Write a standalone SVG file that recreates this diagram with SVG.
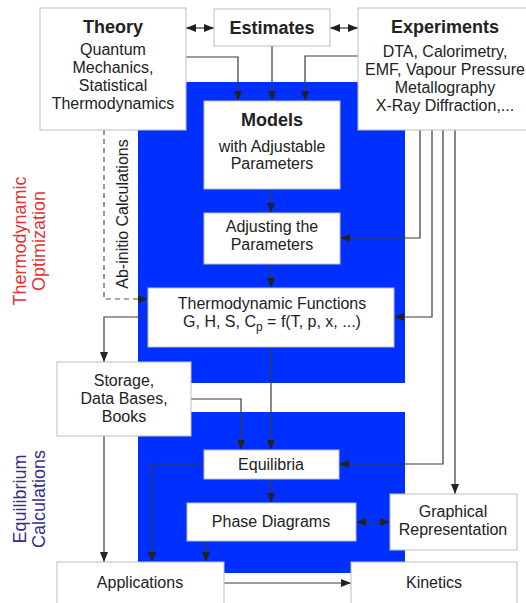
<svg xmlns="http://www.w3.org/2000/svg" width="526" height="603" viewBox="0 0 526 603">
<defs>
<style>
.bg{fill:#0030ff}
.box{fill:#fff;stroke:#bdbdbd;stroke-width:1}
text{font-family:"Liberation Sans",Arial,sans-serif;font-size:16px;fill:#222;text-anchor:middle}
.h{font-weight:bold;font-size:18px}
.red{fill:#e53232;font-size:18px}
.blu{fill:#352e8c;font-size:18px}
.c{fill:none;stroke:#3a3a3a;stroke-width:1.2}
.d{fill:none;stroke:#555;stroke-width:1.2;stroke-dasharray:5 4}
</style>
<marker id="a" viewBox="0 0 10 8" refX="10" refY="4" markerWidth="10" markerHeight="8" markerUnits="userSpaceOnUse" orient="auto-start-reverse">
<path d="M0,0 L10,4 L0,8 z" fill="#222"/>
</marker>
</defs>
<rect width="526" height="603" fill="#fff"/>
<rect class="bg" x="138" y="82" width="267" height="301"/>
<rect class="bg" x="138" y="412" width="267" height="161"/>

<text class="red" transform="translate(26,241) rotate(-90)">Thermodynamic</text>
<text class="red" transform="translate(45,241) rotate(-90)">Optimization</text>
<text class="blu" transform="translate(26,499) rotate(-90)">Equilibrium</text>
<text class="blu" transform="translate(45,499) rotate(-90)">Calculations</text>
<text transform="translate(128,214) rotate(-90)">Ab-initio Calculations</text>

<g id="connectors">
<path class="d" d="M104,130 V299 H148" marker-end="url(#a)"/>
<path class="c" d="M186,28 H214" marker-start="url(#a)" marker-end="url(#a)"/>
<path class="c" d="M330,28 H358" marker-start="url(#a)" marker-end="url(#a)"/>
<path class="c" d="M186,57 H238 V101" marker-end="url(#a)"/>
<path class="c" d="M272,46 V101" marker-end="url(#a)"/>
<path class="c" d="M358,56 H305 V101" marker-end="url(#a)"/>
<path class="c" d="M271,189 V213" marker-end="url(#a)"/>
<path class="c" d="M271,264 V288" marker-end="url(#a)"/>
<path class="c" d="M420,130 V238 H340" marker-end="url(#a)"/>
<path class="c" d="M432,130 V317 H394" marker-end="url(#a)"/>
<path class="c" d="M443,130 V464 H339" marker-end="url(#a)"/>
<path class="c" d="M455,130 V494" marker-end="url(#a)"/>
<path class="c" d="M148,317 H104 V362" marker-end="url(#a)"/>
<path class="c" d="M271,347 V450" marker-end="url(#a)"/>
<path class="c" d="M191,399 H241 V450" marker-end="url(#a)"/>
<path class="c" d="M204,464 H152 V562" marker-end="url(#a)"/>
<path class="c" d="M271,479 V503" marker-end="url(#a)"/>
<path class="c" d="M206,541 V562" marker-end="url(#a)"/>
<path class="c" d="M356,522 H390" marker-start="url(#a)" marker-end="url(#a)"/>
<path class="c" d="M104,436 V562" marker-end="url(#a)"/>
<path class="c" d="M224,583 H351" marker-end="url(#a)"/>
</g>

<g id="theory">
<rect class="box" x="40" y="8" width="146" height="122"/>
<text class="h" x="113" y="33">Theory</text>
<text x="113" y="55">Quantum</text>
<text x="113" y="73">Mechanics,</text>
<text x="113" y="91">Statistical</text>
<text x="113" y="109">Thermodynamics</text>
</g>
<g id="estimates">
<rect class="box" x="214" y="9" width="116" height="37"/>
<text class="h" x="272" y="34">Estimates</text>
</g>
<g id="experiments">
<rect class="box" x="358" y="8" width="174" height="122"/>
<text class="h" x="445" y="33">Experiments</text>
<text x="445" y="57">DTA, Calorimetry,</text>
<text x="445" y="75">EMF, Vapour Pressure</text>
<text x="445" y="93">Metallography</text>
<text x="445" y="111">X-Ray Diffraction,...</text>
</g>
<g id="models">
<rect class="box" x="204" y="101" width="136" height="88"/>
<text class="h" x="272" y="126">Models</text>
<text x="272" y="152">with Adjustable</text>
<text x="272" y="169">Parameters</text>
</g>
<g id="adjusting">
<rect class="box" x="204" y="213" width="136" height="51"/>
<text x="272" y="232">Adjusting the</text>
<text x="272" y="250">Parameters</text>
</g>
<g id="thermo">
<rect class="box" x="148" y="288" width="246" height="59"/>
<text x="272" y="309">Thermodynamic Functions</text>
<text x="272" y="327">G, H, S, C<tspan font-size="12" dy="4">p</tspan><tspan dy="-4"> = f(T, p, x, ...)</tspan></text>
</g>
<g id="storage">
<rect class="box" x="57" y="362" width="134" height="74"/>
<text x="124" y="386">Storage,</text>
<text x="124" y="404">Data Bases,</text>
<text x="124" y="422">Books</text>
</g>
<g id="equilibria">
<rect class="box" x="204" y="450" width="135" height="29"/>
<text x="271" y="470">Equilibria</text>
</g>
<g id="phase">
<rect class="box" x="187" y="503" width="169" height="38"/>
<text x="271" y="527">Phase Diagrams</text>
</g>
<g id="graphical">
<rect class="box" x="390" y="494" width="127" height="56"/>
<text x="453" y="517">Graphical</text>
<text x="453" y="535">Representation</text>
</g>
<g id="applications">
<rect class="box" x="57" y="562" width="167" height="50"/>
<text x="140" y="588">Applications</text>
</g>
<g id="kinetics">
<rect class="box" x="351" y="562" width="166" height="50"/>
<text x="434" y="588">Kinetics</text>
</g>
</svg>
